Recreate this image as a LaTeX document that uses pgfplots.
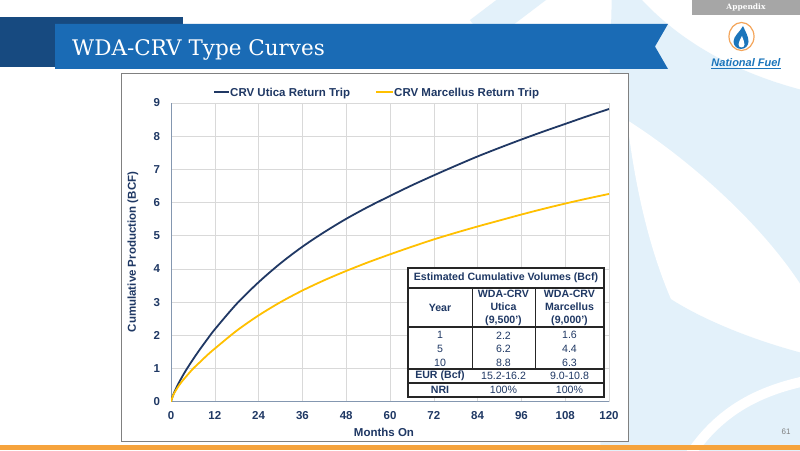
\documentclass[border=0pt]{standalone}
\usepackage{fontspec}
\setmainfont{Liberation Sans}
\newfontfamily\titlefont{DejaVu Serif}
\usepackage{pgfplots}
\pgfplotsset{compat=1.18}
\definecolor{navy}{HTML}{1F3864}
\definecolor{utica}{HTML}{203864}
\definecolor{gold}{HTML}{FFC000}
\definecolor{gridc}{HTML}{D9D9D9}
\definecolor{axc}{HTML}{8497B0}
\definecolor{banner}{HTML}{1A6BB5}
\definecolor{darkbanner}{HTML}{174A80}
\definecolor{tabgray}{HTML}{A6A6A6}
\definecolor{orangebar}{HTML}{F6A33C}
\definecolor{boxc}{HTML}{808080}
\definecolor{deco}{HTML}{E3F1FA}
\definecolor{logoblue}{HTML}{1B75BB}
\definecolor{logoorange}{HTML}{F4A55A}
\newcommand{\fs}[1]{\fontsize{#1}{#1}\selectfont}
\begin{document}
\begin{tikzpicture}[x=1pt,y=1pt]
\useasboundingbox (0,0) rectangle (800,450);
\fill[white] (0,0) rectangle (800,450);
% decorative background watermark
\begin{scope}
\clip (0,0) rectangle (800,450);
\fill[deco] (612,460) -- (642,450) .. controls (670,420) and (720,380) .. (810,358) -- (810,-5) -- (600,-5) -- cycle;
\fill[white] (627,330) .. controls (690,290) and (770,220) .. (810,150) -- (810,10) -- (770,20) .. controls (690,80) and (645,180) .. (627,330) -- cycle;
\fill[deco] (640,177) .. controls (660,150) and (730,115) .. (810,95) -- (810,-5) -- (725,-5) .. controls (690,40) and (652,110) .. (640,177) -- cycle;
\draw[white, line width=10pt] (690,-5) .. controls (720,40) and (760,60) .. (810,70);
\draw[deco, line width=30pt] (537,462) -- (479,418);
\end{scope}
% orange bar
\fill[orangebar] (0,0) rectangle (800,5.5);
% banner
\fill[darkbanner] (0,383) rectangle (183,433);
\fill[banner] (55,426) -- (668,426) -- (655,403.5) -- (668,381) -- (55,381) -- cycle;
\node[anchor=base west, text=white, inner sep=0] at (72,394) {\titlefont\fs{21.5}WDA-CRV Type Curves};
% appendix tab
\fill[tabgray] (692,435) rectangle (800,450);
\node[text=white, inner sep=0] at (746,442.5) {\titlefont\bfseries\fs{7.5}Appendix};
% logo
\fill[white] (741.5,413.5) ellipse (12.5 and 14);
\draw[logoorange, line width=1.2pt] (741.5,413.5) ellipse (12.5 and 14);
\fill[logoblue] (743,424) .. controls (745,419) and (748.5,414) .. (748.5,408.5) arc[start angle=0, end angle=-180, radius=7.5] .. controls (733.5,414) and (740,418) .. cycle;
\fill[white] (742,414) .. controls (743,411) and (744.5,408) .. (744.5,405.5) arc[start angle=0, end angle=-180, radius=3] .. controls (738.5,408) and (740.5,411) .. cycle;
\node[text=logoblue, inner sep=0] at (746,387) {\bfseries\itshape\fs{11}National Fuel};
\draw[logoblue, line width=0.8pt] (711,381.5) -- (781,381.5);
% page number
\node[text=gray, inner sep=0] at (786,18) {\fs{8}61};
% chart box
\draw[boxc, line width=1pt, fill=white] (121,8.5) rectangle (628,376);
\begin{axis}[at={(171pt,48.3pt)}, anchor=south west, scale only axis,
  width=438pt, height=298.7pt,
  xmin=0, xmax=120, ymin=0, ymax=9,
  xtick={0,12,...,120}, ytick={0,1,...,9},
  axis x line*=bottom, axis y line*=left,
  axis line style={axc, line width=0.8pt},
  grid=major, grid style={gridc, line width=0.6pt},
  major tick length=0pt,
  tick label style={font=\bfseries\fs{11.5}, text=navy},
  xticklabel style={yshift=-6.5pt}, yticklabel style={xshift=-7.5pt},
  /pgf/number format/assume math mode=true]
\addplot[utica, line width=1.8pt, smooth] coordinates {
(0,0) (0.5,0.18) (1,0.31) (2,0.54) (3,0.74) (4,0.93) (6,1.27) (8,1.59) (10,1.89) (12,2.18)
(18,2.95) (24,3.60) (30,4.17) (36,4.67) (42,5.11) (48,5.51) (54,5.87) (60,6.20)
(66,6.52) (72,6.82) (78,7.11) (84,7.39) (90,7.65) (96,7.90) (102,8.14)
(108,8.37) (114,8.60) (120,8.82)};
\addplot[gold, line width=1.8pt, smooth] coordinates {
(0,0) (0.5,0.17) (1,0.28) (2,0.46) (3,0.61) (4,0.74) (6,0.99) (8,1.20) (10,1.41) (12,1.60)
(18,2.14) (24,2.60) (30,3.00) (36,3.35) (42,3.66) (48,3.94) (54,4.20) (60,4.44)
(66,4.67) (72,4.89) (78,5.09) (84,5.28) (90,5.46) (96,5.64) (102,5.81)
(108,5.97) (114,6.12) (120,6.26)};
\end{axis}
% legend
\draw[utica, line width=1.8pt] (214,358) -- (229,358);
\node[anchor=base west, inner sep=0, text=navy] at (230,353.9) {\bfseries\fs{11.5}CRV Utica Return Trip};
\draw[gold, line width=1.8pt] (376,358) -- (393,358);
\node[anchor=base west, inner sep=0, text=navy] at (394,353.9) {\bfseries\fs{11.5}CRV Marcellus Return Trip};
% axis labels
\node[rotate=90, text=navy, inner sep=0] at (133,198) {\bfseries\fs{11.5}Cumulative Production (BCF)};
\node[text=navy, inner sep=0] at (384,18) {\bfseries\fs{11.5}Months On};
% table
\fill[white] (408,53) rectangle (604,182);
\draw[black!85, line width=1.3pt] (408,53) rectangle (604,182);
\draw[black!85, line width=1.3pt] (408,162) -- (604,162);
\draw[black!85, line width=1.1pt] (408,123) -- (604,123);
\draw[black!85, line width=1.3pt] (408,81) -- (604,81);
\draw[black!85, line width=1.3pt] (408,67) -- (604,67);
\draw[black!85, line width=1pt] (472,162) -- (472,81);
\draw[black!85, line width=1pt] (535,162) -- (535,81);
\begin{scope}[every node/.style={text=navy, inner sep=0}]
\node at (506,172) {\bfseries\fs{10.6}Estimated Cumulative Volumes (Bcf)};
\node at (440,142.5) {\bfseries\fs{10.6}Year};
\node[align=center, font=\bfseries\fontsize{10.6}{13.3}\selectfont] at (503.5,142) {WDA-CRV\\Utica\\(9,500’)};
\node[align=center, font=\bfseries\fontsize{10.6}{13.3}\selectfont] at (569.5,142) {WDA-CRV\\Marcellus\\(9,000’)};
\node at (440,114.7) {\fs{10.6}1};
\node at (440,101) {\fs{10.6}5};
\node at (440,86.7) {\fs{10.6}10};
\node at (503.5,114.7) {\fs{10.6}2.2};
\node at (503.5,101) {\fs{10.6}6.2};
\node at (503.5,86.7) {\fs{10.6}8.8};
\node at (569.5,114.7) {\fs{10.6}1.6};
\node at (569.5,101) {\fs{10.6}4.4};
\node at (569.5,86.7) {\fs{10.6}6.3};
\node at (440,74) {\bfseries\fs{10.6}EUR (Bcf)};
\node at (503.5,74) {\fs{10.6}15.2-16.2};
\node at (569.5,74) {\fs{10.6}9.0-10.8};
\node at (440,60) {\bfseries\fs{10.6}NRI};
\node at (503.5,60) {\fs{10.6}100\%};
\node at (569.5,60) {\fs{10.6}100\%};
\end{scope}
\end{tikzpicture}
\end{document}
